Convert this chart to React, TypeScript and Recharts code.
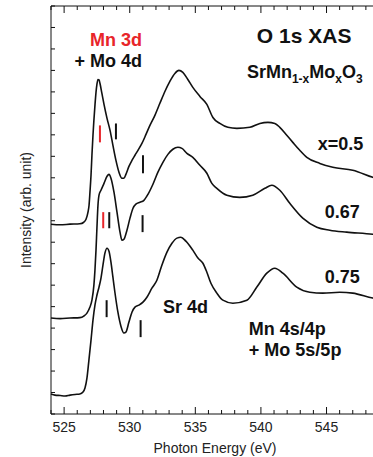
import {
  LineChart,
  Line,
  XAxis,
  YAxis,
  ReferenceLine,
  ReferenceDot,
} from "recharts";

// O 1s XAS spectra, offset vertically (photon energy eV, intensity arb.)
const x050: [number, number][] = [
  [524.0, 8.84], [524.7, 8.81], [525.45, 8.84], [526.2, 8.86], [526.5, 8.93],
  [526.67, 9.07], [526.82, 9.4], [526.9, 9.72], [526.97, 10.33], [527.05, 11.12],
  [527.12, 12.05], [527.2, 12.98], [527.35, 14.37], [527.43, 14.98], [527.5, 15.35],
  [527.58, 15.58], [527.66, 15.56], [527.73, 15.4], [527.88, 14.93], [528.04, 14.42],
  [528.27, 13.77], [528.5, 13.21], [528.72, 12.51], [528.95, 11.81], [529.18, 11.26],
  [529.41, 10.98], [529.56, 10.98], [529.71, 11.16], [529.94, 11.53], [530.17, 11.81],
  [530.4, 12.05], [530.63, 12.28], [530.93, 12.6], [531.24, 13.02], [531.54, 13.44],
  [531.92, 13.91], [532.3, 14.47], [532.68, 15.02], [533.06, 15.49], [533.44, 15.86],
  [533.75, 16.0], [534.05, 15.91], [534.43, 15.58], [534.81, 15.21], [535.35, 14.79],
  [535.88, 14.42], [536.34, 13.81], [536.87, 13.53], [537.48, 13.35], [538.17, 13.3],
  [539.16, 13.35], [539.92, 13.53], [540.53, 13.58], [541.06, 13.53], [541.44, 13.35],
  [541.97, 12.98], [542.43, 12.65], [542.96, 12.28], [543.5, 11.95], [544.49, 11.67],
  [545.48, 11.49], [547.0, 11.35], [548.52, 11.02], [549.0, 10.93],
];

const x067: [number, number][] = [
  [524.0, 4.47], [524.7, 4.44], [525.45, 4.47], [526.2, 4.49], [526.5, 4.56],
  [526.74, 4.7], [526.97, 4.98], [527.12, 5.3], [527.27, 6.0], [527.35, 6.7],
  [527.43, 7.63], [527.5, 8.65], [527.58, 9.72], [527.66, 10.19], [527.81, 10.42],
  [528.04, 10.74], [528.27, 11.07], [528.42, 11.16], [528.57, 10.98], [528.8, 10.33],
  [529.03, 9.4], [529.26, 8.47], [529.41, 8.09], [529.56, 8.14], [529.79, 8.56],
  [530.02, 9.12], [530.25, 9.58], [530.47, 9.77], [530.78, 9.86], [531.08, 9.95],
  [531.39, 10.23], [531.77, 10.7], [532.15, 11.26], [532.53, 11.72], [532.91, 12.09],
  [533.29, 12.33], [533.67, 12.42], [533.98, 12.37], [534.36, 12.14], [534.81, 11.95],
  [535.35, 11.58], [535.88, 11.21], [536.26, 10.74], [536.64, 10.51], [537.4, 10.19],
  [538.39, 10.09], [539.38, 10.19], [540.3, 10.51], [540.83, 10.65], [541.44, 10.42],
  [542.2, 9.81], [543.19, 9.12], [544.26, 8.7], [545.25, 8.56], [546.54, 8.47],
  [548.52, 8.37], [549.0, 8.33],
];

const x075: [number, number][] = [
  [524.0, 0.93], [524.3, 0.88], [524.7, 0.86], [525.07, 0.84], [525.45, 0.88],
  [525.83, 0.91], [526.2, 0.93], [526.44, 1.02], [526.59, 1.21], [526.74, 1.67],
  [526.89, 2.51], [527.05, 3.44], [527.2, 4.37], [527.35, 5.07], [527.5, 5.53],
  [527.66, 5.91], [527.81, 6.33], [527.96, 6.93], [528.11, 7.49], [528.27, 7.72],
  [528.42, 7.58], [528.57, 7.07], [528.72, 6.37], [528.87, 5.67], [529.1, 4.74],
  [529.33, 4.09], [529.56, 3.77], [529.71, 3.81], [529.94, 4.28], [530.17, 4.74],
  [530.4, 4.98], [530.7, 5.07], [531.01, 5.21], [531.31, 5.44], [531.69, 5.86],
  [532.07, 6.23], [532.45, 6.93], [532.83, 7.53], [533.22, 7.95], [533.6, 8.19],
  [533.9, 8.23], [534.28, 8.05], [534.81, 7.63], [535.2, 7.26], [535.58, 7.02],
  [535.88, 6.6], [536.19, 6.09], [536.64, 5.63], [537.1, 5.3], [537.86, 5.16],
  [538.93, 5.3], [539.69, 5.91], [540.45, 6.56], [541.06, 6.79], [541.67, 6.56],
  [542.73, 5.91], [543.73, 5.67], [544.72, 5.63], [546.01, 5.67], [547.0, 5.63],
  [548.52, 5.4], [549.0, 5.35],
];

// peak markers: energy, bottom, top, Mn 3d (red) or not
const markers: { e: number; y0: number; y1: number; mn: boolean }[] = [
  { e: 527.73, y0: 12.65, y1: 13.44, mn: true },
  { e: 528.95, y0: 12.79, y1: 13.53, mn: false },
  { e: 531.01, y0: 11.21, y1: 12.05, mn: false },
  { e: 527.98, y0: 8.65, y1: 9.4, mn: true },
  { e: 528.44, y0: 8.65, y1: 9.4, mn: false },
  { e: 530.98, y0: 8.47, y1: 9.26, mn: false },
  { e: 528.24, y0: 4.51, y1: 5.3, mn: false },
  { e: 530.83, y0: 3.58, y1: 4.37, mn: false },
];

const xTicks = Array.from({ length: 26 }, (_, i) => 524 + i);
const yTicks = Array.from({ length: 20 }, (_, i) => i);
const Y_MAX = 19;

const W = 390;
const H = 457;
const M = { top: 6, right: 11, bottom: 0, left: 0 };
const AX_H = 43;
const AX_W = 51;
const PLOT_H = H - M.top - M.bottom - AX_H;
const STEP = (W - M.left - M.right - AX_W) / (xTicks.length - 1);

const toPts = (arr: [number, number][]) => arr.map(([e, y]) => ({ e, y }));

const RED = "#e8252a";
const INK = "#111";

// bottom ticks + labels; also mirrors each tick onto the top frame
const bottomTick = (p: any) => {
  const v = p.payload.value;
  const major = v % 5 === 0;
  const len = major ? 7 : 4;
  const top = p.y - PLOT_H;
  return (
    <g>
      <line x1={p.x} y1={p.y} x2={p.x} y2={p.y - len} stroke={INK} strokeWidth={1} />
      <line x1={p.x} y1={top} x2={p.x} y2={top + len} stroke={INK} strokeWidth={1} />
      {v < 549 && <line x1={p.x} y1={top} x2={p.x + STEP} y2={top} stroke={INK} strokeWidth={1} />}
      {major && (
        <text x={p.x} y={p.y + 18} textAnchor="middle" fontSize={14} fill="#222">
          {v}
        </text>
      )}
    </g>
  );
};

const leftTick = (p: any) => (
  <line x1={p.x} y1={p.y} x2={p.x + 4} y2={p.y} stroke={INK} strokeWidth={1} />
);

const note = (key: string, e: number, y: number, body: any, opts: any = {}) => (
  <ReferenceDot
    key={key}
    x={e}
    y={y}
    r={0}
    ifOverflow="visible"
    shape={(p: any) => (
      <text
        x={p.cx}
        y={p.cy}
        fontSize={opts.size || 18}
        fontWeight={700}
        fill={opts.color || INK}
        textAnchor={opts.anchor || "start"}
      >
        {body}
      </text>
    )}
  />
);

export default function App() {
  return (
    <div
      style={{
        position: "fixed",
        left: 0,
        top: 0,
        width: 373,
        height: 457,
        overflow: "hidden",
        background: "#fff",
        fontFamily: "Arial, 'Liberation Sans', sans-serif",
      }}
    >
      <LineChart width={W} height={H} margin={M} style={{ overflow: "visible" }}>
        <XAxis
          dataKey="e"
          type="number"
          domain={[524, 549]}
          ticks={xTicks}
          interval={0}
          height={AX_H}
          tickSize={0}
          tickMargin={0}
          tickLine={false}
          tick={bottomTick}
          stroke={INK}
          label={{ value: "Photon Energy (eV)", position: "insideBottom", offset: 4, fontSize: 14, fill: "#222" }}
        />
        <YAxis
          type="number"
          domain={[0, Y_MAX]}
          ticks={yTicks}
          interval={0}
          width={AX_W}
          tickSize={0}
          tickMargin={0}
          tickLine={false}
          tick={leftTick}
          stroke={INK}
          label={{ value: "Intensity (arb. unit)", angle: -90, position: "center", dx: 1, fontSize: 14, fill: "#222" }}
        />

        {[x050, x067, x075].map((s, i) => (
          <Line
            key={i}
            data={toPts(s)}
            dataKey="y"
            type="monotone"
            stroke={INK}
            strokeWidth={1.6}
            dot={false}
            isAnimationActive={false}
          />
        ))}

        {markers.map((m, i) => (
          <ReferenceLine
            key={"m" + i}
            segment={[{ x: m.e, y: m.y0 }, { x: m.e, y: m.y1 }]}
            stroke={m.mn ? RED : INK}
            strokeWidth={2}
          />
        ))}

        {note("mn3d", 530.93, 17.16, "Mn 3d", { color: RED, anchor: "end" })}
        {note("mo4d", 530.93, 16.14, "+ Mo 4d", { anchor: "end" })}
        {note("title", 539.69, 17.3, "O 1s XAS", { size: 21 })}
        {note(
          "formula",
          538.93,
          15.67,
          <>
            SrMn<tspan fontSize={12} dy={5}>1-x</tspan>
            <tspan dy={-5}>Mo</tspan>
            <tspan fontSize={12} dy={5}>x</tspan>
            <tspan dy={-5}>O</tspan>
            <tspan fontSize={12} dy={5}>3</tspan>
          </>
        )}
        {note("c050", 544.33, 12.28, "x=0.5")}
        {note("c067", 544.87, 9.12, "0.67")}
        {note("c075", 544.87, 6.09, "0.75")}
        {note("sr4d", 532.53, 4.7, "Sr 4d")}
        {note("mn4s", 539.08, 3.67, "Mn 4s/4p")}
        {note("mo5s", 539.08, 2.7, "+ Mo 5s/5p")}
      </LineChart>
    </div>
  );
}
